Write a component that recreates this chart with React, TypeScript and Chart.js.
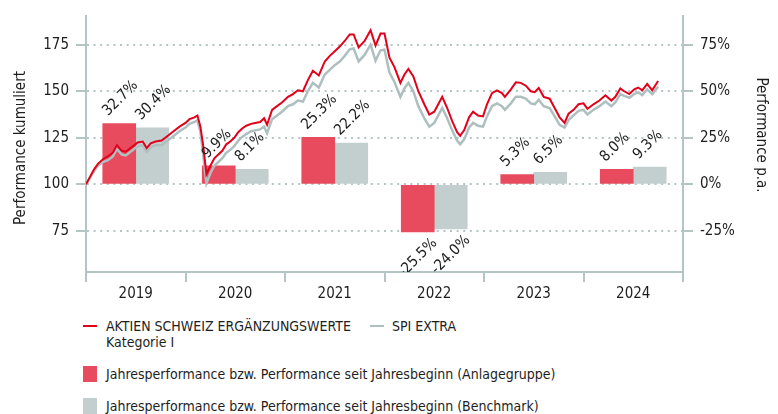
import React, { useEffect, useRef } from "react";
import { Chart, registerables } from "chart.js";

Chart.register(...registerables);

const years = ["2019", "2020", "2021", "2022", "2023", "2024"];
const fundYearPerf = [32.7, 9.9, 25.3, -25.5, 5.3, 8.0];
const benchYearPerf = [30.4, 8.1, 22.2, -24.0, 6.5, 9.3];

// time in fractional years since start of 2019
const timePoints = [
  0.0, 0.04, 0.08, 0.12, 0.17, 0.22, 0.27, 0.31, 0.36, 0.4, 0.46, 0.52, 0.57, 0.61, 0.65, 0.7, 0.76, 0.82, 0.88, 0.94,
  1.0, 1.04, 1.09, 1.12, 1.15, 1.18, 1.21, 1.25, 1.29, 1.33, 1.37, 1.41, 1.45, 1.49, 1.53, 1.57, 1.61, 1.66, 1.7, 1.75,
  1.79, 1.82, 1.87, 1.92, 1.97, 2.03, 2.08, 2.13, 2.18, 2.23, 2.28, 2.34, 2.4, 2.45, 2.5, 2.55, 2.6, 2.65, 2.69, 2.74,
  2.8, 2.86, 2.91, 2.96, 3.0, 3.05, 3.1, 3.16, 3.2, 3.24, 3.29, 3.34, 3.4, 3.45, 3.5, 3.54, 3.58, 3.63, 3.68, 3.73,
  3.76, 3.8, 3.85, 3.89, 3.94, 3.99, 4.03, 4.08, 4.13, 4.18, 4.21, 4.27, 4.32, 4.37, 4.42, 4.47, 4.51, 4.55, 4.6, 4.66,
  4.71, 4.76, 4.81, 4.85, 4.9, 4.95, 5.0, 5.04, 5.1, 5.16, 5.22, 5.28, 5.32, 5.37, 5.41, 5.46, 5.51, 5.55, 5.59, 5.64,
  5.69, 5.75,
];

const fundCumulative = [
  100, 104, 108, 111, 113.5, 115, 117, 121, 118, 117.5, 120, 122.5, 123, 119.5, 122, 123, 123.5, 126, 128.5, 131,
  133, 135, 136, 137, 131, 120, 105.5, 110, 114, 116, 118, 121.5, 123, 125, 128, 130, 131.5, 132.5, 133, 133.5,
  135.5, 132, 140, 142, 144, 147, 148.5, 150.5, 150, 156, 161, 158.5, 166, 169, 171.5, 174, 177, 180.5, 180.5, 173.5,
  177, 182.8, 174.5, 181, 181, 168, 163, 154.5, 159, 162, 158, 150, 143, 137.5, 139, 143, 147, 141, 134, 128,
  126, 129, 136, 139, 137, 136.5, 143, 149, 150.5, 149, 147, 151, 154.8, 154.5, 153, 150, 149.5, 151.8, 147, 146,
  141, 136, 133, 138, 140, 143, 143.5, 140.5, 143, 145, 147.8, 145, 147, 151.5, 150, 148.5, 151, 152, 150.5, 154,
  150.5, 155.5,
];

const benchCumulative = [
  100, 103.5, 107, 110, 112, 113, 115, 119, 116, 115.5, 118, 120.5, 121, 117.5, 120, 121, 121, 123.5, 126, 128.5,
  130.5, 132.5, 133.5, 134.5, 128, 115, 100.5, 106, 110, 112, 114, 117, 118.5, 120.5, 123.5, 125.5, 127, 128.5, 129, 129.5,
  131, 127.5, 135, 137, 139, 142, 143, 145, 144.5, 150, 154.5, 152, 159, 161.5, 164, 166, 169, 172.5, 173, 166,
  169.5, 175, 166.5, 172, 172.3, 160, 155, 147, 151.5, 154.5, 150, 142, 135.5, 131, 133, 137, 141, 135.5, 129, 123.5,
  121.5, 124, 130.5, 133, 131.5, 131, 136.5, 142, 143.5, 142, 140, 143.5, 147, 147, 146, 143.5, 143, 145.5, 142, 141,
  136.5, 132, 130.5, 134.5, 137, 139.5, 140, 137.5, 140, 142, 144.5, 142, 144, 148.5, 147.5, 146.5, 148.5, 149.5, 148, 151,
  148.5, 152.5,
];

const leftTicks = [75, 100, 125, 150, 175];
const rightTicks = [-25, 0, 25, 50, 75];

const RED_LINE = "#e2001a";
const GRAY_LINE = "#aebfbf";
const RED_BAR = "#e94b5e";
const GRAY_BAR = "#c3cfcf";
const AXIS = "#b3c5c5";
const TEXT = "#1e1e1e";
const FONT = "'DejaVu Sans Condensed', 'DejaVu Sans', sans-serif";

const LEFT_MIN = 52.92;
const LEFT_MAX = 190.42;

export default function App() {
  const canvasRef = useRef<HTMLCanvasElement | null>(null);

  useEffect(() => {
    const canvas = canvasRef.current;
    if (!canvas) return;

    const overlay = {
      id: "overlay",
      afterDatasetsDraw(chart: any) {
        const ctx = chart.ctx;
        const area = chart.chartArea;
        ctx.save();
        ctx.beginPath();
        ctx.rect(area.left, area.top, area.right - area.left, area.bottom - area.top);
        ctx.clip();
        ctx.font = `15px ${FONT}`;
        ctx.fillStyle = TEXT;
        ctx.textBaseline = "middle";
        [0, 1].forEach((di) => {
          const meta = chart.getDatasetMeta(di);
          const vals = di === 0 ? fundYearPerf : benchYearPerf;
          meta.data.forEach((el: any, i: number) => {
            const v = vals[i];
            const txt = `${v.toFixed(1)}%`;
            ctx.save();
            if (v >= 0) {
              ctx.translate(el.x - 14, el.y - 10);
              ctx.rotate(-Math.PI / 4);
              ctx.textAlign = "left";
            } else {
              ctx.translate(el.x + 17, el.y + 9);
              ctx.rotate(-Math.PI / 4);
              ctx.textAlign = "right";
            }
            ctx.fillText(txt, 0, 0);
            ctx.restore();
          });
        });
        ctx.restore();
      },
      afterDraw(chart: any) {
        const ctx = chart.ctx;
        ctx.save();
        ctx.font = `15px ${FONT}`;
        ctx.fillStyle = TEXT;
        ctx.textAlign = "center";
        ctx.textBaseline = "middle";
        ctx.save();
        ctx.translate(21, 148);
        ctx.rotate(-Math.PI / 2);
        ctx.fillText("Performance kumuliert", 0, 0);
        ctx.restore();
        ctx.save();
        ctx.translate(761, 135);
        ctx.rotate(Math.PI / 2);
        ctx.fillText("Performance p.a.", 0, 0);
        ctx.restore();
        ctx.restore();
      },
    };

    const chart = new Chart(canvas, {
      type: "bar",
      data: {
        datasets: [
          {
            type: "bar",
            label: "Jahresperformance bzw. Performance seit Jahresbeginn (Anlagegruppe)",
            data: years.map((_, i) => ({ x: i + 0.5, y: fundYearPerf[i] })),
            backgroundColor: RED_BAR,
            xAxisID: "x",
            yAxisID: "yr",
            barThickness: 33,
            order: 10,
          },
          {
            type: "bar",
            label: "Jahresperformance bzw. Performance seit Jahresbeginn (Benchmark)",
            data: years.map((_, i) => ({ x: i + 0.5, y: benchYearPerf[i] })),
            backgroundColor: GRAY_BAR,
            xAxisID: "x",
            yAxisID: "yr",
            barThickness: 33,
            order: 10,
          },
          {
            type: "line",
            label: "SPI EXTRA",
            data: timePoints.map((t, i) => ({ x: t, y: benchCumulative[i] })),
            borderColor: GRAY_LINE,
            borderWidth: 2.5,
            pointRadius: 0,
            tension: 0,
            xAxisID: "x",
            yAxisID: "y",
            order: 2,
          } as any,
          {
            type: "line",
            label: "AKTIEN SCHWEIZ ERGÄNZUNGSWERTE Kategorie I",
            data: timePoints.map((t, i) => ({ x: t, y: fundCumulative[i] })),
            borderColor: RED_LINE,
            borderWidth: 2,
            pointRadius: 0,
            tension: 0,
            xAxisID: "x",
            yAxisID: "y",
            order: 1,
          } as any,
        ],
      },
      options: {
        responsive: false,
        animation: false,
        layout: { padding: { top: 13, left: 0, right: 0, bottom: 0 } },
        plugins: {
          legend: { display: false },
          tooltip: { enabled: false },
        },
        scales: {
          x: {
            type: "linear",
            position: "bottom",
            min: 0,
            max: years.length,
            offset: false,
            afterBuildTicks: (s: any) => {
              const t: any[] = [];
              for (let i = 0; i <= years.length * 2; i++) t.push({ value: i / 2 });
              s.ticks = t;
            },
            grid: {
              display: true,
              drawOnChartArea: false,
              drawTicks: true,
              tickLength: 10,
              offset: false,
              color: AXIS,
              lineWidth: 2,
              tickColor: (c: any) =>
                c.tick && Number.isInteger(c.tick.value) ? AXIS : "rgba(0,0,0,0)",
            },
            border: { display: true, color: AXIS, width: 2 },
            ticks: {
              color: TEXT,
              font: { family: FONT, size: 15 },
              padding: 3,
              autoSkip: false,
              maxRotation: 0,
              callback: (v: any) => {
                const n = Number(v);
                if (Number.isInteger(n)) return "";
                return years[Math.floor(n)] ?? "";
              },
            },
            afterFit: (s: any) => {
              s.height = 28;
            },
          },
          y: {
            type: "linear",
            position: "left",
            min: LEFT_MIN,
            max: LEFT_MAX,
            afterBuildTicks: (s: any) => {
              s.ticks = leftTicks.map((v) => ({ value: v }));
            },
            grid: {
              color: AXIS,
              lineWidth: 2,
              drawTicks: true,
              tickLength: 10,
            },
            border: { display: true, color: AXIS, width: 2, dash: [2, 4.6] },
            ticks: { color: TEXT, font: { family: FONT, size: 15 }, padding: 7 },
            afterFit: (s: any) => {
              s.width = 86;
            },
          },
          yr: {
            type: "linear",
            position: "right",
            min: LEFT_MIN - 100,
            max: LEFT_MAX - 100,
            afterBuildTicks: (s: any) => {
              s.ticks = rightTicks.map((v) => ({ value: v }));
            },
            grid: {
              drawOnChartArea: false,
              color: AXIS,
              lineWidth: 2,
              drawTicks: true,
              tickLength: 10,
            },
            border: { display: true, color: AXIS, width: 2 },
            ticks: {
              color: TEXT,
              font: { family: FONT, size: 15 },
              padding: 7,
              callback: (v: any) => `${v}%`,
            },
            afterFit: (s: any) => {
              s.width = 95;
            },
          },
        },
      } as any,
      plugins: [overlay],
    });

    return () => {
      chart.destroy();
    };
  }, []);

  const legendText: React.CSSProperties = {
    position: "absolute",
    fontFamily: FONT,
    fontSize: 14,
    color: TEXT,
    lineHeight: "16px",
    whiteSpace: "nowrap",
  };

  return (
    <div style={{ position: "absolute", left: 0, top: 0, width: 778, height: 414, background: "#fff", overflow: "hidden" }}>
      <canvas ref={canvasRef} width={778} height={300} style={{ position: "absolute", left: 0, top: 0, width: 778, height: 300 }} />
      <div style={{ position: "absolute", left: 83, top: 325, width: 14, height: 2, background: RED_LINE }} />
      <div style={{ ...legendText, left: 106, top: 318 }}>
        AKTIEN SCHWEIZ ERGÄNZUNGSWERTE
        <br />
        Kategorie I
      </div>
      <div style={{ position: "absolute", left: 370, top: 325, width: 14, height: 2, background: GRAY_LINE }} />
      <div style={{ ...legendText, left: 392, top: 318 }}>SPI EXTRA</div>
      <div style={{ position: "absolute", left: 83, top: 366, width: 14, height: 16, background: RED_BAR }} />
      <div style={{ ...legendText, left: 106, top: 366 }}>
        Jahresperformance bzw. Performance seit Jahresbeginn (Anlagegruppe)
      </div>
      <div style={{ position: "absolute", left: 83, top: 398, width: 14, height: 16, background: GRAY_BAR }} />
      <div style={{ ...legendText, left: 106, top: 398 }}>
        Jahresperformance bzw. Performance seit Jahresbeginn (Benchmark)
      </div>
    </div>
  );
}
